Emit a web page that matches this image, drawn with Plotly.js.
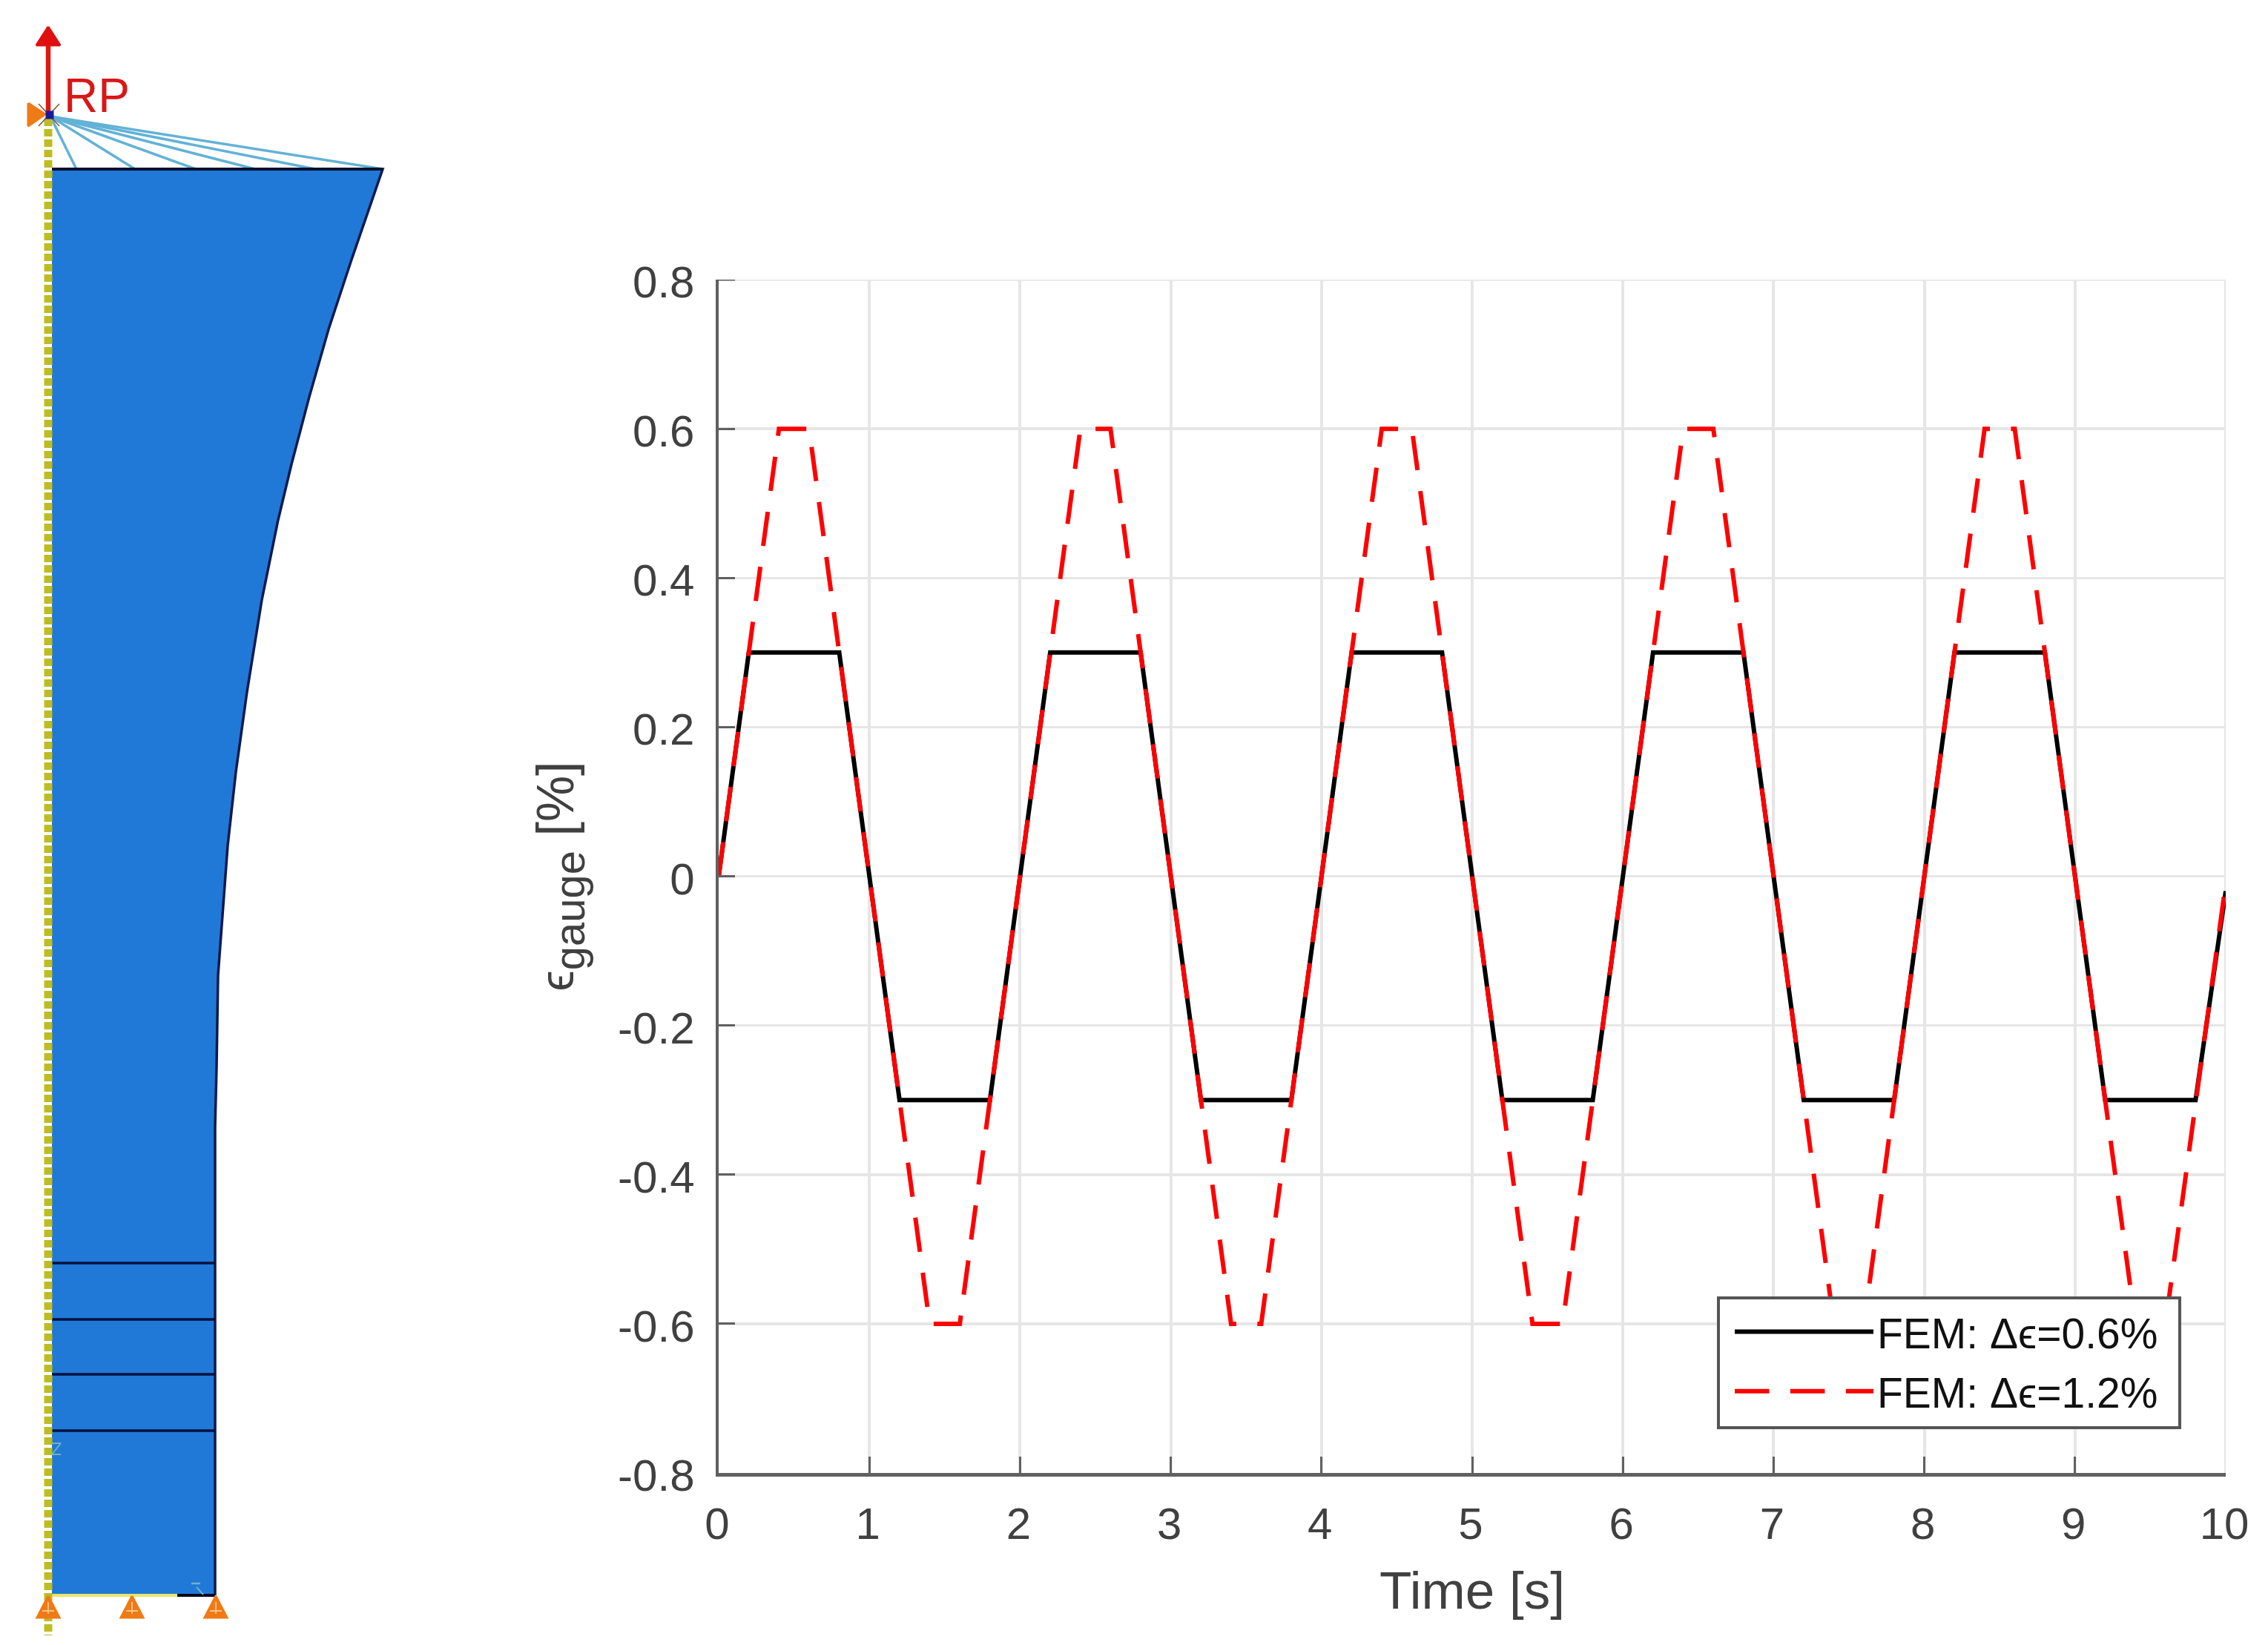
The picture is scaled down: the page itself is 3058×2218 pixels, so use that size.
<!DOCTYPE html>
<html><head><meta charset="utf-8">
<script src="https://cdn.plot.ly/plotly-3.0.1.min.js"></script>
<style>html,body{margin:0;padding:0;background:#fff}</style></head>
<body><div id="chart" style="width:3058px;height:2218px"></div>
<script>
var time06 = [0,0.2,0.8,1.2,1.8,2.2,2.8,3.2,3.8,4.2,4.8,5.2,5.8,6.2,6.8,7.2,7.8,8.2,8.8,9.2,9.8,10];
var strain06 = [0,0.3,0.3,-0.3,-0.3,0.3,0.3,-0.3,-0.3,0.3,0.3,-0.3,-0.3,0.3,0.3,-0.3,-0.3,0.3,0.3,-0.3,-0.3,-0.02];
var time12 = [0,0.4,0.6,1.4,1.6,2.4,2.6,3.4,3.6,4.4,4.6,5.4,5.6,6.4,6.6,7.4,7.6,8.4,8.6,9.4,9.6,10];
var strain12 = [0,0.6,0.6,-0.6,-0.6,0.6,0.6,-0.6,-0.6,0.6,0.6,-0.6,-0.6,0.6,0.6,-0.6,-0.6,0.6,0.6,-0.6,-0.6,-0.01];
var xTicks = [0,1,2,3,4,5,6,7,8,9,10];
var xTickText = ['0','1','2','3','4','5','6','7','8','9','10'];
var yTicks = [-0.8,-0.6,-0.4,-0.2,0,0.2,0.4,0.6,0.8];
var yTickText = ['-0.8','-0.6','-0.4','-0.2','0','0.2','0.4','0.6','0.8'];
var seriesNames = ['FEM: Δϵ=0.6%','FEM: Δϵ=1.2%'];

// specimen sketch (left panel), in its own units
var bodyX = [70,516,473,443,417,393,375,353,333,318,307,300,294,292,290,290,70,70];
var bodyY = [228,228,353,444,535,626,701,809,933,1041,1140,1232,1315,1439,1520,2151,2151,228];
var sectionY = [1703,1779,1853,1929];
var sectionX = [70,290];
var fanTopX = [103,182,264,344,425,516];
var fanOrigin = [68,157];
var topY = 228;
var symmetryX = [65,65];
var symmetryY = [160,2205];
var supportX = [65,178,291];
var supportTipY = 2152;
var supportBaseY = 2181;

var traces = [];
function sk(x,y,o){
  var t = {x:x,y:y,xaxis:'x2',yaxis:'y2',mode:'lines',type:'scatter',showlegend:false,hoverinfo:'skip'};
  for (var k in o) t[k]=o[k];
  traces.push(t);
}
sk(bodyX,bodyY,{fill:'toself',fillcolor:'#2079d6',line:{color:'rgba(0,0,0,0)',width:0}});
sk(bodyX.slice(0,16),bodyY.slice(0,16),{line:{color:'#0b1a50',width:3.5}});
fanTopX.forEach(function(fx){ sk([fanOrigin[0],fx],[fanOrigin[1],topY],{line:{color:'#62b2d6',width:3.5}}); });
sk([70,516],[topY,topY],{line:{color:'#0a1030',width:4}});
sectionY.forEach(function(sy){ sk(sectionX,[sy,sy],{line:{color:'#050f40',width:3.5}}); });
sk([70,239],[2151,2151],{line:{color:'#e6e66a',width:4}});
sk([239,290],[2151,2151],{line:{color:'#000020',width:4}});
sk([70,82,70,82],[1946,1946,1961,1961],{line:{color:'#6fb0c8',width:2}});
sk([258,270],[2135,2135],{line:{color:'#6fb0c8',width:2.5}});
sk([265,274],[2140,2150],{line:{color:'#6fb0c8',width:2}});
sk(symmetryX,symmetryY,{line:{color:'#bdbd22',width:11,dash:'10px,4px'}});
supportX.forEach(function(sx){
  sk([sx,sx+15,sx-15,sx],[supportTipY,supportBaseY,supportBaseY,supportTipY],{fill:'toself',fillcolor:'#f07a14',line:{color:'#f07a14',width:3}});
  sk([sx,sx],[2160,2176],{line:{color:'#ffd9a8',width:1.5}});
  sk([sx-8,sx+8],[2172,2172],{line:{color:'#ffd9a8',width:1.5}});
});
sk([38,61,38,38],[139,154,170,139],{fill:'toself',fillcolor:'#f07a14',line:{color:'#f07a14',width:3}});
sk([65,65],[60,155],{line:{color:'#dd1a10',width:6.5}});
sk([65,81,49,65],[36,61,61,36],{fill:'toself',fillcolor:'#e01010',line:{color:'#e01010',width:3}});
sk([52,80],[140,170],{line:{color:'#8a4a30',width:1.5}});
sk([52,80],[170,140],{line:{color:'#8a4a30',width:1.5}});
sk([67],[155],{mode:'markers',marker:{color:'#1a1a9a',size:11,symbol:'square'}});

traces.push({x:time06,y:strain06,name:seriesNames[0],legendgroup:'g1',type:'scatter',mode:'lines',line:{color:'#000000',width:6}});
traces.push({x:time12,y:strain12,name:seriesNames[1],legendgroup:'g2',type:'scatter',mode:'lines',line:{color:'#ff0000',width:6,dash:'46.5px,28.4px'}});

var gridColor = '#e6e6e6';
var layout = {
  width:3058,height:2218,autosize:false,paper_bgcolor:'#fff',plot_bgcolor:'rgba(0,0,0,0)',
  margin:{l:0,r:0,t:0,b:0},
  font:{family:'"Liberation Sans",Arial,sans-serif',color:'#404040',size:58},
  xaxis:{domain:[969/3058,3001/3058],range:[0,10],tickvals:xTicks,ticktext:xTickText,ticks:'inside',ticklen:22,tickwidth:3,tickcolor:'#606060',
    showline:true,linecolor:'#606060',linewidth:4.5,mirror:false,showgrid:true,gridcolor:gridColor,gridwidth:4,zeroline:false,
    tickfont:{size:60,color:'#404040'},ticklabelstandoff:12,ticklabelshift:-2,
    title:{text:'Time [s]',font:{size:71,color:'#404040'},standoff:34},anchor:'y'},
  yaxis:{domain:[1-1986/2218,1-377/2218],range:[-0.8,0.8],tickvals:yTicks,ticktext:yTickText,ticks:'inside',ticklen:22,tickwidth:3,tickcolor:'#606060',
    showline:true,linecolor:'#606060',linewidth:4.5,mirror:false,showgrid:true,gridcolor:gridColor,gridwidth:3.5,zeroline:false,
    tickfont:{size:60,color:'#404040'},ticklabelstandoff:16,ticklabelshift:3,
    title:{text:'<span style="font-size:64px">ϵ</span><sub><span style="font-size:58px">gauge</span></sub> [%]',font:{size:70,color:'#404040'},standoff:38},anchor:'x'},
  xaxis2:{domain:[0,620/3058],range:[0,620],visible:false,fixedrange:true,anchor:'y2'},
  yaxis2:{domain:[0,1],range:[2218,0],visible:false,fixedrange:true,anchor:'x2'},
  legend:{x:2334/3058,y:1-1752/2218,xanchor:'left',yanchor:'top',bgcolor:'rgba(0,0,0,0)',borderwidth:0,itemwidth:187,tracegroupgap:3,
    font:{size:57,color:'#111'},traceorder:'grouped',itemclick:false,itemdoubleclick:false},
  shapes:[
    {type:'line',xref:'x',yref:'y',x0:10,x1:10,y0:-0.8,y1:0.8,layer:'below',line:{color:gridColor,width:4}},
    {type:'line',xref:'x',yref:'y',x0:0,x1:10,y0:0.8,y1:0.8,layer:'below',line:{color:gridColor,width:3.5}},
    {type:'line',xref:'x',yref:'y',x0:0,x1:0.108,y0:0.8,y1:0.8,layer:'above',line:{color:'#606060',width:3}},
    {type:'rect',xref:'paper',yref:'paper',x0:2317/3058,x1:2939/3058,y0:1-1925/2218,y1:1-1750/2218,layer:'above',fillcolor:'#fff',line:{color:'#555',width:4}}
  ],
  annotations:[{xref:'x2',yref:'y2',x:84,y:153,xanchor:'left',yanchor:'bottom',yshift:-14,text:'RP',showarrow:false,font:{size:64,color:'#d81818'}}]
};
Plotly.newPlot('chart',traces,layout,{staticPlot:true,displayModeBar:false});
</script></body></html>
